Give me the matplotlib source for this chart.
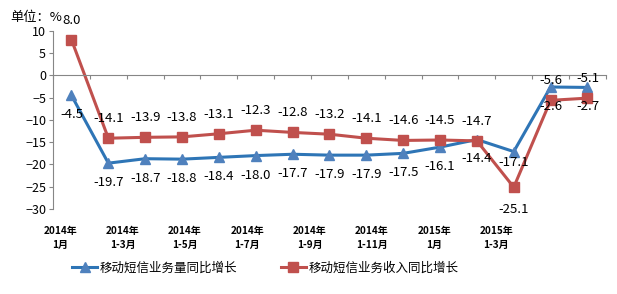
import matplotlib
matplotlib.use("Agg")
import matplotlib.pyplot as plt

plt.rcParams['font.family'] = ['Noto Sans CJK SC', 'DejaVu Sans']

# data
liang = [-4.5, -19.7, -18.7, -18.8, -18.4, -18.0, -17.7, -17.9, -17.9, -17.5, -16.1, -14.4, -17.1, -2.6, -2.7]
shouru = [8.0, -14.1, -13.9, -13.8, -13.1, -12.3, -12.8, -13.2, -14.1, -14.6, -14.5, -14.7, -25.1, -5.6, -5.1]
xlabels = ["2014年\n1月", "2014年\n1-3月", "2014年\n1-5月", "2014年\n1-7月",
           "2014年\n1-9月", "2014年\n1-11月", "2015年\n1月", "2015年\n1-3月"]
name1 = "移动短信业务量同比增长"
name2 = "移动短信业务收入同比增长"

blue_line = "#2E75B6"
blue_mk = "#4F81BD"
red = "#C0504D"
grey = "#868686"

fig = plt.figure(figsize=(6.17, 2.94), dpi=100)
ax = fig.add_axes([0.086, 0.289, 0.896, 0.606])

x = list(range(len(liang)))
ax.plot(x, liang, color=blue_line, lw=2.2, marker="^", ms=7, mfc=blue_mk, mec=blue_mk, label=name1)
ax.plot(x, shouru, color=red, lw=2.2, marker="s", ms=6.5, mfc=red, mec=red, label=name2)

# data labels: red above, blue below
for i, v in enumerate(shouru):
    dy = 14
    if v < -20:
        dy = -16
    ax.annotate("%.1f" % v, (i, v), xytext=(0, dy), textcoords="offset points",
                ha="center", va="center", fontsize=9.5)
for i, v in enumerate(liang):
    dy = -14
    if i == 12:
        dy = -8
    ax.annotate("%.1f" % v, (i, v), xytext=(0, dy), textcoords="offset points",
                ha="center", va="center", fontsize=9.5)

ax.set_xlim(-0.5, len(liang) - 0.5)
ax.set_ylim(-30, 10)
ax.set_yticks(range(-30, 11, 5))
ax.tick_params(axis="y", direction="out", length=3, color=grey, labelsize=9, pad=2)

ax.spines["top"].set_visible(False)
ax.spines["right"].set_visible(False)
ax.spines["left"].set_color(grey)
ax.spines["bottom"].set_color(grey)
ax.spines["bottom"].set_position(("data", 0))
ax.set_xticks([i + 0.5 for i in range(-1, len(liang))])
ax.set_xticklabels([])
ax.tick_params(axis="x", direction="out", length=3, color=grey)

# category labels under the plot
trans = ax.get_xaxis_transform()
for k, lab in enumerate(xlabels):
    ax.text(-0.3 + 1.69 * k, -0.16, lab, transform=trans, ha="center", va="center",
            fontsize=7.2, fontweight="bold", linespacing=1.5)

fig.text(0.016, 0.94, "单位：%", fontsize=9.5, va="center")

fig.legend(loc="center", bbox_to_anchor=(0.43, 0.088), ncol=2, frameon=False,
           fontsize=9, handlelength=2.0, columnspacing=3.5, handletextpad=0.2)

fig.savefig("out.png", dpi=100)
